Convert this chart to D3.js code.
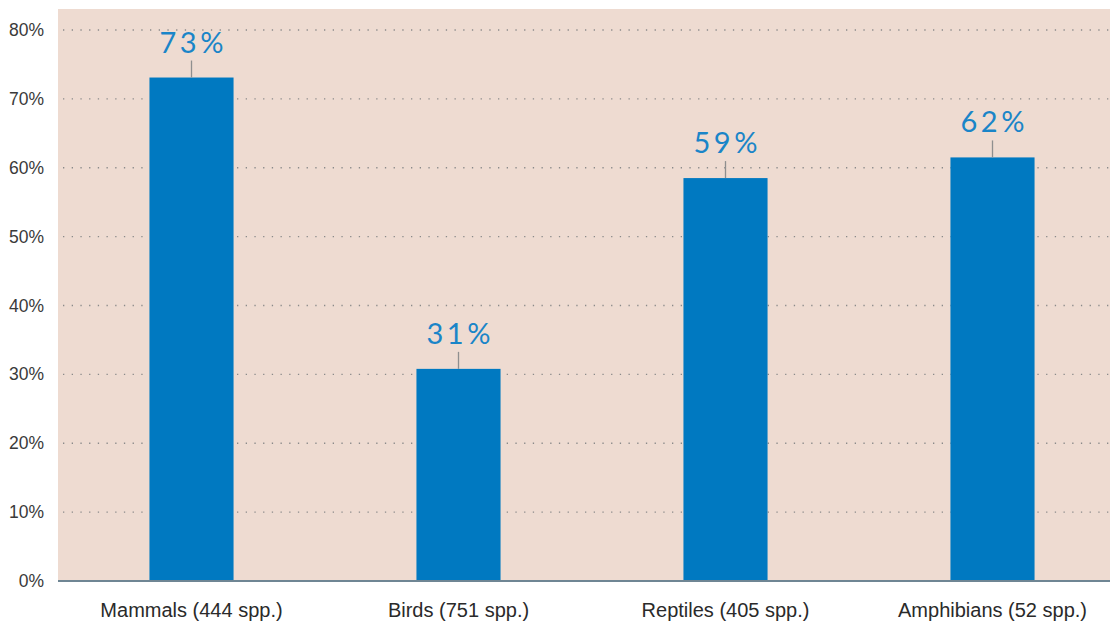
<!DOCTYPE html>
<html>
<head>
<meta charset="utf-8">
<script src="https://cdn.jsdelivr.net/npm/d3@7"></script>
<style>
  body { margin: 0; background: #fff; }
  svg { display: block; }
</style>
</head>
<body>
<div id="chart"></div>
<script>
// data
var categories = ['Mammals (444 spp.)', 'Birds (751 spp.)', 'Reptiles (405 spp.)', 'Amphibians (52 spp.)'];
var shares = [73.1, 30.8, 58.5, 61.5];
var shareLabels = ['73%', '31%', '59%', '62%'];
var yTicks = [0, 10, 20, 30, 40, 50, 60, 70, 80];

var attrs = {
    svgWidth: 1110,
    svgHeight: 627,
    plotLeft: 58,
    plotTop: 9,
    plotBottom: 581,
    barColor: '#0079c1',
    labelColor: '#1a85c8',
    panelColor: '#eedbd1',
    font: 'Lato, "Open Sans", sans-serif'
};

var svg = d3.select('#chart').append('svg')
    .attr('width', attrs.svgWidth)
    .attr('height', attrs.svgHeight)
    .attr('font-family', attrs.font);

var x = d3.scaleBand()
    .domain(categories)
    .range([attrs.plotLeft, 1126])
    .paddingInner(0.685)
    .paddingOuter(0.3425);

var y = d3.scaleLinear()
    .domain([0, 80])
    .range([attrs.plotBottom, 30]);

// panel
svg.append('rect')
    .attr('x', attrs.plotLeft)
    .attr('y', attrs.plotTop)
    .attr('width', attrs.svgWidth - attrs.plotLeft)
    .attr('height', attrs.plotBottom - attrs.plotTop)
    .attr('fill', attrs.panelColor);

// dotted gridlines
svg.append('g').selectAll('line')
    .data(yTicks.filter(d => d > 0))
    .enter().append('line')
    .attr('x1', attrs.plotLeft + 5)
    .attr('x2', attrs.svgWidth)
    .attr('y1', d => y(d))
    .attr('y2', d => y(d))
    .attr('stroke', '#8a8a8a')
    .attr('stroke-width', 1.3)
    .attr('stroke-dasharray', '1.3,7.4');

// y axis
var yAxis = d3.axisLeft(y)
    .tickValues(yTicks)
    .tickFormat(d => d + '%')
    .tickSize(0)
    .tickPadding(14);

svg.append('g')
    .attr('transform', 'translate(' + attrs.plotLeft + ',0)')
    .call(yAxis)
    .call(g => g.select('.domain').remove())
    .selectAll('text')
    .attr('font-size', 17.5)
    .attr('fill', '#3a3a3a');

// bars
svg.append('g').selectAll('rect')
    .data(shares)
    .enter().append('rect')
    .attr('x', (d, i) => x(categories[i]))
    .attr('width', x.bandwidth())
    .attr('y', d => y(d))
    .attr('height', d => y(0) - y(d))
    .attr('fill', attrs.barColor);

// leader lines
svg.append('g').selectAll('line')
    .data(shares)
    .enter().append('line')
    .attr('x1', (d, i) => x(categories[i]) + x.bandwidth() / 2)
    .attr('x2', (d, i) => x(categories[i]) + x.bandwidth() / 2)
    .attr('y1', d => y(d))
    .attr('y2', d => y(d) - 17)
    .attr('stroke', '#8f8f8f')
    .attr('stroke-width', 1.3);

// value labels
svg.append('g').selectAll('text')
    .data(shares)
    .enter().append('text')
    .attr('x', (d, i) => x(categories[i]) + x.bandwidth() / 2 + 1.75)
    .attr('y', d => y(d) - 25)
    .attr('text-anchor', 'middle')
    .attr('font-size', 29)
    .attr('letter-spacing', 3.5)
    .attr('fill', attrs.labelColor)
    .text((d, i) => shareLabels[i]);

// baseline
svg.append('line')
    .attr('x1', attrs.plotLeft)
    .attr('x2', attrs.svgWidth)
    .attr('y1', y(0))
    .attr('y2', y(0))
    .attr('stroke', '#6f8694')
    .attr('stroke-width', 2);

// x axis
var xAxis = d3.axisBottom(x).tickSize(0).tickPadding(22);
svg.append('g')
    .attr('transform', 'translate(0,' + attrs.plotBottom + ')')
    .call(xAxis)
    .call(g => g.select('.domain').remove())
    .selectAll('text')
    .attr('font-size', 20)
    .attr('fill', '#2a2a2a');
</script>
</body>
</html>
